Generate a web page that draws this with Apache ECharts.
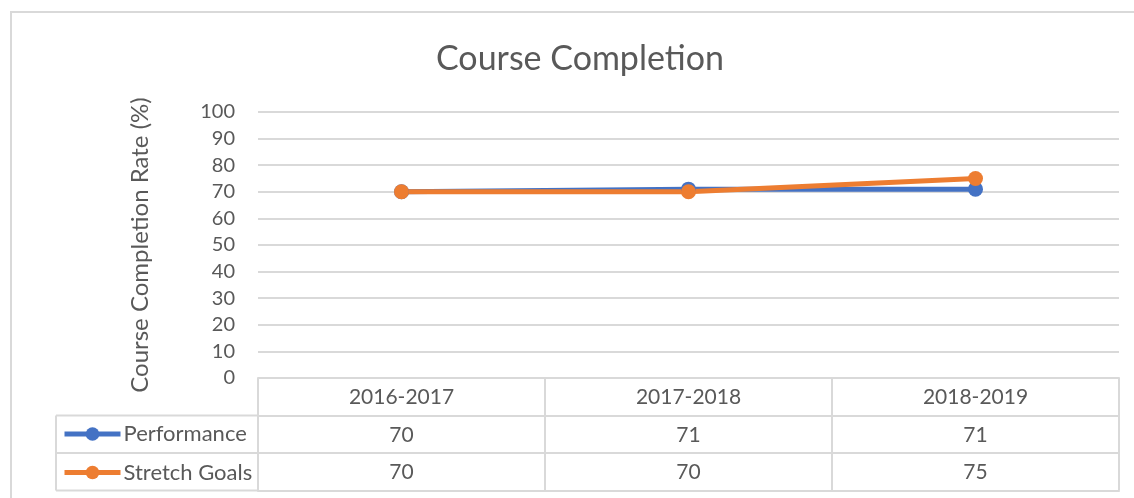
<!DOCTYPE html>
<html>
<head>
<meta charset="utf-8">
<script src="https://cdn.jsdelivr.net/npm/echarts@6/dist/echarts.min.js"></script>
<style>
html,body{margin:0;padding:0;background:#fff;}
#main{width:1134px;height:498px;}
</style>
</head>
<body>
<div id="main"></div>
<script>
// data
var years = ['2016-2017', '2017-2018', '2018-2019'];
var performance = [70, 71, 71];
var stretchGoals = [70, 70, 75];
var seriesNames = ['Performance', 'Stretch Goals'];
var yTicks = [0, 10, 20, 30, 40, 50, 60, 70, 80, 90, 100];

var chart = echarts.init(document.getElementById('main'));
var font = 'Lato, "Open Sans", sans-serif';
var gridColor = '#d9d9d9';
var textColor = '#595959';
var rowH = 37.5;

// one extra x axis per table row, labels read from the arrays
function rowAxis(offset, values, showTicks) {
	return {
		type: 'category',
		data: years,
		position: 'bottom',
		offset: offset,
		axisLine: {show: true, lineStyle: {color: gridColor, width: 2}},
		axisTick: {show: showTicks, interval: 0, length: rowH, lineStyle: {color: gridColor, width: 2}},
		axisLabel: {
			show: values != null,
			interval: 0,
			margin: 9,
			fontFamily: font,
			fontSize: 21,
			color: textColor,
			formatter: function (v, i) { return values ? String(values[i]) : ''; }
		},
		splitLine: {show: false}
	};
}

var option = {
	backgroundColor: '#fff',
	animation: false,
	title: {
		text: 'Course Completion',
		left: 436,
		top: 42,
		padding: 0,
		textStyle: {fontFamily: font, fontSize: 34, fontWeight: 'normal', color: textColor}
	},
	legend: {
		orient: 'vertical',
		left: 62,
		top: 423,
		padding: 0,
		itemGap: 16.5,
		itemWidth: 56,
		itemHeight: 17,
		data: seriesNames,
		lineStyle: {width: 5},
		textStyle: {fontFamily: font, fontSize: 22, lineHeight: 22, color: textColor, padding: [0, 0, 0, -2]}
	},
	grid: {left: 258, right: 15, top: 112, bottom: 120, containLabel: false},
	xAxis: [
		rowAxis(0, years, true),
		rowAxis(rowH, performance, true),
		rowAxis(rowH * 2, stretchGoals, true),
		rowAxis(rowH * 3, null, false)
	],
	yAxis: {
		type: 'value',
		min: yTicks[0],
		max: yTicks[yTicks.length - 1],
		interval: 10,
		name: 'Course Completion Rate (%)',
		nameLocation: 'middle',
		nameRotate: 90,
		nameGap: 106,
		nameTextStyle: {fontFamily: font, fontSize: 24, color: textColor},
		axisLine: {show: false},
		axisTick: {show: false},
		axisLabel: {fontFamily: font, fontSize: 20, color: textColor, margin: 23},
		splitLine: {lineStyle: {color: gridColor, width: 2}}
	},
	series: [
		{
			name: seriesNames[0],
			type: 'line',
			xAxisIndex: 0,
			data: performance,
			color: '#4472c4',
			lineStyle: {width: 5},
			symbol: 'circle',
			symbolSize: 15
		},
		{
			name: seriesNames[1],
			type: 'line',
			xAxisIndex: 0,
			data: stretchGoals,
			color: '#ed7d31',
			lineStyle: {width: 5},
			symbol: 'circle',
			symbolSize: 15
		}
	]
};
chart.setOption(option);

// table frame for the legend column, plus the outer chart border
var top0 = 378, left0 = 56, plotL = 258;
var ls = {stroke: gridColor, lineWidth: 2};
var g = [
	{type: 'rect', shape: {x: 11, y: 12, width: 1140, height: 500}, style: {fill: null, stroke: gridColor, lineWidth: 2}, silent: true}
];
for (var r = 1; r <= 3; r++) {
	g.push({type: 'line', shape: {x1: left0, y1: top0 + rowH * r, x2: plotL, y2: top0 + rowH * r}, style: ls, silent: true});
}
g.push({type: 'line', shape: {x1: left0, y1: top0 + rowH, x2: left0, y2: top0 + rowH * 3}, style: ls, silent: true});
g.push({type: 'line', shape: {x1: plotL, y1: top0 + rowH, x2: plotL, y2: top0 + rowH * 3}, style: ls, silent: true});
chart.setOption({graphic: g});
</script>
</body>
</html>
